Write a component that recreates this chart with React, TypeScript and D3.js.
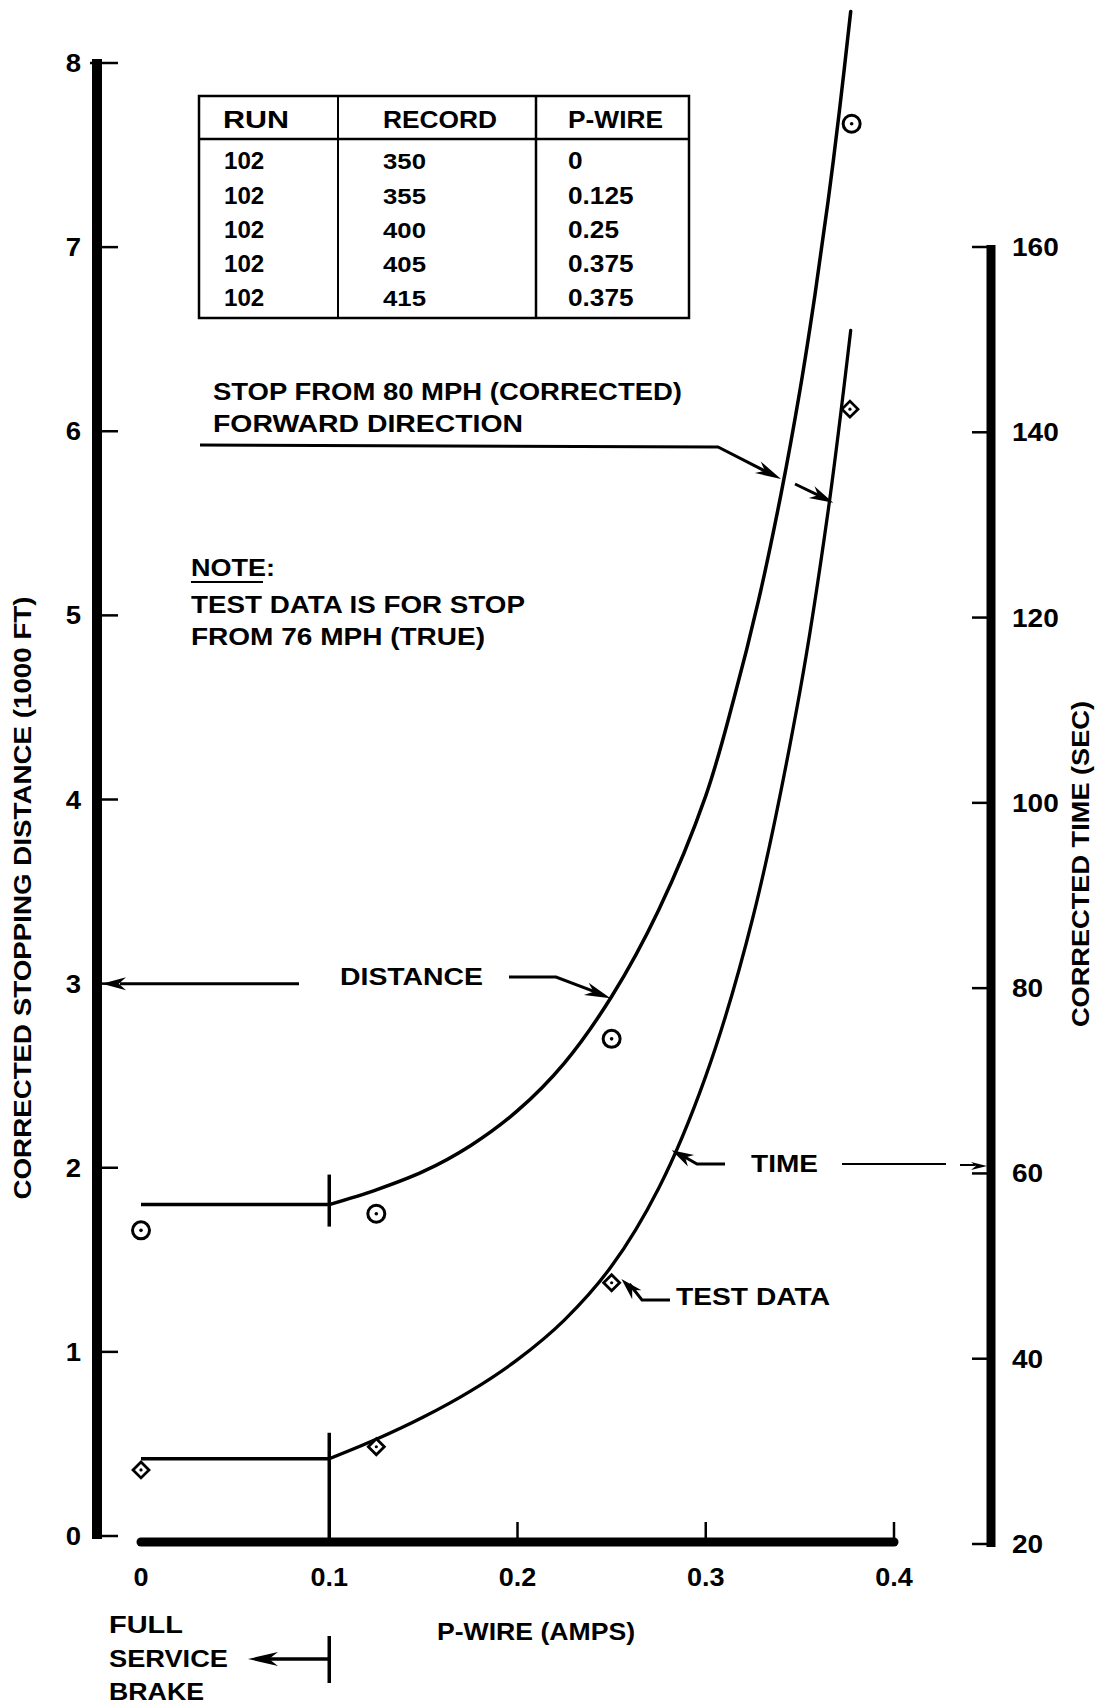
import React from 'react';
import * as d3 from 'd3';

// ---------- data ----------
const distTicks = [0, 1, 2, 3, 4, 5, 6, 7, 8];
const timeTicks = [20, 40, 60, 80, 100, 120, 140, 160];
const pwireTicks = [0, 0.1, 0.2, 0.3, 0.4];
const pwireTickLabels = ['0', '0.1', '0.2', '0.3', '0.4'];

// faired curve: corrected stopping distance (1000 ft) vs P-wire (amps)
const distCurveX = [0, 0.1, 0.125, 0.15, 0.175, 0.2, 0.225, 0.25, 0.275, 0.3, 0.315, 0.328, 0.34, 0.35, 0.358, 0.365, 0.371, 0.377];
const distCurveY = [1.8, 1.8, 1.88, 1.98, 2.12, 2.31, 2.57, 2.93, 3.4, 4.02, 4.55, 5.08, 5.66, 6.22, 6.74, 7.25, 7.74, 8.28];

// faired curve: corrected time (sec) vs P-wire (amps)
const timeCurveX = [0, 0.1, 0.125, 0.15, 0.175, 0.2, 0.225, 0.25, 0.275, 0.3, 0.325, 0.35, 0.365, 0.377];
const timeCurveY = [29.2, 29.2, 31.3, 33.7, 36.5, 39.9, 44.2, 50.0, 58.4, 70.5, 87.6, 112.0, 131.5, 151.0];

// test data points
const distTestX = [0, 0.125, 0.25, 0.3775];
const distTestY = [1.66, 1.75, 2.7, 7.67];
const timeTestX = [0, 0.125, 0.25, 0.3766];
const timeTestY = [28.0, 30.5, 48.2, 142.5];

// table
const tableHeader = ['RUN', 'RECORD', 'P-WIRE'];
const tableRun = ['102', '102', '102', '102', '102'];
const tableRecord = ['350', '355', '400', '405', '415'];
const tablePwire = ['0', '0.125', '0.25', '0.375', '0.375'];

// ---------- layout ----------
const W = 1097;
const H = 1705;
const FONT = '"Liberation Sans", Arial, Helvetica, sans-serif';
const FS = 23;

const x = d3.scaleLinear().domain([0, 0.4]).range([141, 894]);
const yD = d3.scaleLinear().domain([0, 8]).range([1536, 63]);
const yT = d3.scaleLinear().domain([20, 160]).range([1544, 247]);

function head(tx: number, ty: number, fx: number, fy: number, len: number, hw: number) {
  const dx = tx - fx;
  const dy = ty - fy;
  const L = Math.hypot(dx, dy);
  const ux = dx / L;
  const uy = dy / L;
  const bx = tx - ux * len;
  const by = ty - uy * len;
  const px = -uy;
  const py = ux;
  return `${tx},${ty} ${bx + px * hw},${by + py * hw} ${bx + ux * len * 0.3},${by + uy * len * 0.3} ${bx - px * hw},${by - py * hw}`;
}

const T = (props: {
  x: number; y: number; children: React.ReactNode; w?: number; anchor?: string; size?: number; sx?: number; rotate?: number;
}) => {
  const { x: tx, y: ty, children, w, anchor = 'start', size = FS, sx = 1, rotate = 0 } = props;
  const tr = `translate(${tx},${ty})${rotate ? ` rotate(${rotate})` : ''}${sx !== 1 ? ` scale(${sx},1)` : ''}`;
  return (
    <text
      transform={tr}
      textAnchor={anchor as any}
      fontFamily={FONT}
      fontWeight="bold"
      fontSize={size}
      fill="#000"
      {...(w ? { textLength: w, lengthAdjust: 'spacingAndGlyphs' } : {})}
    >
      {children}
    </text>
  );
};

export default function App() {
  const distPts: [number, number][] = distCurveX.map((v, i) => [v, distCurveY[i]]);
  const timePts: [number, number][] = timeCurveX.map((v, i) => [v, timeCurveY[i]]);

  const lineD = d3.line<[number, number]>().x((d) => x(d[0])).y((d) => yD(d[1]));
  const lineT = d3.line<[number, number]>().x((d) => x(d[0])).y((d) => yT(d[1]));
  const curveD = d3
    .line<[number, number]>()
    .x((d) => x(d[0]))
    .y((d) => yD(d[1]))
    .curve(d3.curveCatmullRom.alpha(0.5));
  const curveT = d3
    .line<[number, number]>()
    .x((d) => x(d[0]))
    .y((d) => yT(d[1]))
    .curve(d3.curveCatmullRom.alpha(0.5));

  const xAxisY = 1542;
  const leftAxisX = 97;
  const rightAxisX = 991;
  const x01 = x(0.1);

  // table geometry
  const tL = 199, tR = 689, tTop = 96, tBot = 318, tHead = 139, c1 = 338, c2 = 536;
  const rowBase = [169, 204, 238, 272, 306];

  // annotation anchors
  const distArrowTip: [number, number] = [x(0.2494), yD(2.92)];
  const timeArrowTip: [number, number] = [x(0.2819), yT(62.5)];
  const testTip: [number, number] = [x(0.2552), yT(48.6)];
  const stopTip1: [number, number] = [781, 479];
  const stopTip2: [number, number] = [x(0.3677), yT(132.4)];

  return (
    <svg
      width={W}
      height={H}
      viewBox={`0 0 ${W} ${H}`}
      style={{ position: 'absolute', left: 0, top: 0, background: '#fff', display: 'block' }}
    >
      <rect x={0} y={0} width={W} height={H} fill="#fff" />

      {/* left axis */}
      <line x1={leftAxisX} x2={leftAxisX} y1={yD(8) - 4} y2={yD(0) + 3} stroke="#000" strokeWidth={10} />
      {distTicks.map((v) => (
        <g key={'ld' + v}>
          <line x1={v === 8 ? 90 : leftAxisX} x2={118} y1={yD(v)} y2={yD(v)} stroke="#000" strokeWidth={2.5} />
          <T x={81} y={yD(v) + 9} anchor="end" size={25} sx={1.1}>{v}</T>
        </g>
      ))}
      <T x={31} y={898} anchor="middle" rotate={-90} w={603}>CORRECTED STOPPING DISTANCE (1000 FT)</T>

      {/* right axis */}
      <line x1={rightAxisX} x2={rightAxisX} y1={yT(160) - 2} y2={yT(20) + 3} stroke="#000" strokeWidth={9} />
      {timeTicks.map((v) => (
        <g key={'rt' + v}>
          <line x1={972} x2={rightAxisX} y1={yT(v)} y2={yT(v)} stroke="#000" strokeWidth={2.5} />
          <T x={1012} y={yT(v) + 9} anchor="start" size={25} sx={1.12}>{v}</T>
        </g>
      ))}
      <T x={1089} y={864} anchor="middle" rotate={-90} w={326}>CORRECTED TIME (SEC)</T>

      {/* x axis */}
      <line x1={x(0)} x2={x(0.4)} y1={xAxisY} y2={xAxisY} stroke="#000" strokeWidth={9} strokeLinecap="round" />
      {pwireTicks.map((v, i) => (
        <g key={'xt' + v}>
          {v >= 0.2 && <line x1={x(v)} x2={x(v)} y1={xAxisY} y2={xAxisY - 20} stroke="#000" strokeWidth={2.5} />}
          <T x={x(v)} y={1586} anchor="middle" size={25} sx={1.08}>{pwireTickLabels[i]}</T>
        </g>
      ))}
      <T x={536} y={1640} anchor="middle" w={198}>P-WIRE (AMPS)</T>

      {/* full service brake marker */}
      <line x1={x01} x2={x01} y1={yT(29.2) - 26} y2={xAxisY} stroke="#000" strokeWidth={3.5} />
      <line x1={x01} x2={x01} y1={yD(1.8) - 30} y2={yD(1.8) + 22} stroke="#000" strokeWidth={3.5} />
      <line x1={x01} x2={x01} y1={1636} y2={1683} stroke="#000" strokeWidth={3.5} />
      <line x1={x01} x2={268} y1={1659} y2={1659} stroke="#000" strokeWidth={3.5} />
      <polygon points={head(248, 1659, 290, 1659, 30, 7)} fill="#000" />
      <T x={109} y={1633} w={74}>FULL</T>
      <T x={109} y={1667} w={119}>SERVICE</T>
      <T x={109} y={1700} w={95}>BRAKE</T>

      {/* curves */}
      <path d={lineD(distPts.slice(0, 2)) || ''} fill="none" stroke="#000" strokeWidth={3.5} />
      <path d={curveD(distPts.slice(1)) || ''} fill="none" stroke="#000" strokeWidth={3.5} strokeLinecap="round" />
      <path d={lineT(timePts.slice(0, 2)) || ''} fill="none" stroke="#000" strokeWidth={3.5} />
      <path d={curveT(timePts.slice(1)) || ''} fill="none" stroke="#000" strokeWidth={3.3} strokeLinecap="round" />

      {/* test data */}
      {distTestX.map((v, i) => (
        <g key={'dc' + i}>
          <circle cx={x(v)} cy={yD(distTestY[i])} r={8.5} fill="#fff" stroke="#000" strokeWidth={3} />
          <circle cx={x(v)} cy={yD(distTestY[i])} r={1.8} fill="#000" />
        </g>
      ))}
      {timeTestX.map((v, i) => {
        const cx = x(v);
        const cy = yT(timeTestY[i]);
        const s = 8;
        return (
          <g key={'td' + i}>
            <path d={`M${cx},${cy - s}L${cx + s},${cy}L${cx},${cy + s}L${cx - s},${cy}Z`} fill="#fff" stroke="#000" strokeWidth={2.8} />
            <circle cx={cx} cy={cy} r={1.6} fill="#000" />
          </g>
        );
      })}

      {/* table */}
      <rect x={tL} y={tTop} width={tR - tL} height={tBot - tTop} fill="none" stroke="#000" strokeWidth={2.5} />
      <line x1={tL} x2={tR} y1={tHead} y2={tHead} stroke="#000" strokeWidth={2.5} />
      <line x1={c1} x2={c1} y1={tTop} y2={tBot} stroke="#000" strokeWidth={2} />
      <line x1={c2} x2={c2} y1={tTop} y2={tBot} stroke="#000" strokeWidth={2.5} />
      <T x={223} y={128} w={66}>{tableHeader[0]}</T>
      <T x={383} y={128} w={114}>{tableHeader[1]}</T>
      <T x={568} y={128} w={95}>{tableHeader[2]}</T>
      {tableRun.map((r, i) => (
        <g key={'row' + i}>
          <T x={224} y={rowBase[i]} sx={1.05}>{r}</T>
          <T x={383} y={rowBase[i]} sx={1.12}>{tableRecord[i]}</T>
          <T x={568} y={rowBase[i]} sx={1.14}>{tablePwire[i]}</T>
        </g>
      ))}

      {/* STOP FROM 80 MPH annotation */}
      <T x={213} y={400} w={469}>STOP FROM 80 MPH (CORRECTED)</T>
      <T x={213} y={432} w={310}>FORWARD DIRECTION</T>
      <polyline points={`200,445 718,447 ${stopTip1[0] - 14},${stopTip1[1] - 7}`} fill="none" stroke="#000" strokeWidth={3} />
      <polygon points={head(stopTip1[0], stopTip1[1], 718, 447, 26, 6.5)} fill="#000" />
      <line x1={795} y1={484} x2={stopTip2[0] - 12} y2={stopTip2[1] - 6} stroke="#000" strokeWidth={3} />
      <polygon points={head(stopTip2[0], stopTip2[1], 795, 484, 24, 6.5)} fill="#000" />

      {/* NOTE */}
      <T x={191} y={576} w={84}>NOTE:</T>
      <line x1={191} x2={263} y1={582} y2={582} stroke="#000" strokeWidth={2} />
      <T x={191} y={613} w={334}>TEST DATA IS FOR STOP</T>
      <T x={191} y={645} w={294}>FROM 76 MPH (TRUE)</T>

      {/* DISTANCE */}
      <T x={340} y={985} w={143}>DISTANCE</T>
      <line x1={299} x2={120} y1={yD(3)} y2={yD(3)} stroke="#000" strokeWidth={3} />
      <polygon points={head(leftAxisX + 5, yD(3), 299, yD(3), 24, 6.5)} fill="#000" />
      <polyline points={`509,977 556,977 ${distArrowTip[0] - 14},${distArrowTip[1] - 6}`} fill="none" stroke="#000" strokeWidth={3} />
      <polygon points={head(distArrowTip[0], distArrowTip[1], 556, 977, 26, 6.5)} fill="#000" />

      {/* TIME */}
      <T x={751} y={1172} w={67}>TIME</T>
      <polyline points={`725,1164 697,1164 ${timeArrowTip[0] + 10},${timeArrowTip[1] + 5}`} fill="none" stroke="#000" strokeWidth={3} />
      <polygon points={head(timeArrowTip[0], timeArrowTip[1], 697, 1164, 22, 6.5)} fill="#000" />
      <line x1={842} x2={946} y1={1164} y2={1164} stroke="#000" strokeWidth={2} />
      <line x1={960} x2={975} y1={1165} y2={1165} stroke="#000" strokeWidth={2} />
      <polygon points={head(rightAxisX - 4, 1166, 960, 1166, 16, 4)} fill="#000" />

      {/* TEST DATA */}
      <T x={676} y={1305} w={154}>TEST DATA</T>
      <polyline points={`670,1300 642,1300 ${testTip[0] + 8},${testTip[1] + 5}`} fill="none" stroke="#000" strokeWidth={3} />
      <polygon points={head(testTip[0], testTip[1], 642, 1300, 22, 6.5)} fill="#000" />
    </svg>
  );
}
